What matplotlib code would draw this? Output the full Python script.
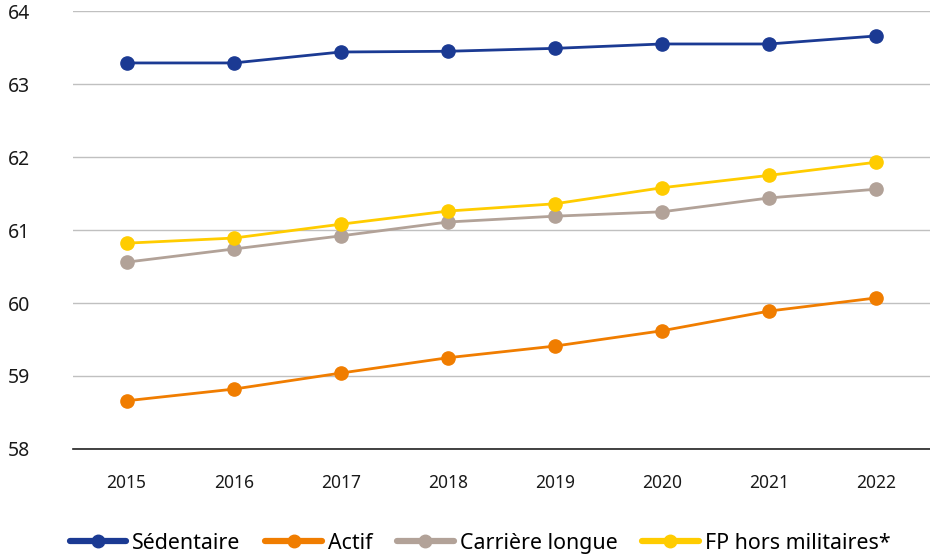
import matplotlib.pyplot as plt

years = ["2015", "2016", "2017", "2018", "2019", "2020", "2021", "2022"]
sedentaire = [63.29, 63.29, 63.44, 63.45, 63.49, 63.55, 63.55, 63.66]
actif = [58.66, 58.82, 59.04, 59.25, 59.41, 59.62, 59.89, 60.07]
carriere_longue = [60.56, 60.74, 60.92, 61.11, 61.19, 61.25, 61.44, 61.56]
fp_hors_militaires = [60.82, 60.89, 61.08, 61.26, 61.36, 61.58, 61.75, 61.93]

series = [
    ("Sédentaire", sedentaire, "#1b3a93"),
    ("Actif", actif, "#f07d00"),
    ("Carrière longue", carriere_longue, "#b2a298"),
    ("FP hors militaires*", fp_hors_militaires, "#ffcc00"),
]

plt.rcParams['font.family'] = ['Noto Sans', 'DejaVu Sans']

fig = plt.figure(figsize=(9.3, 5.57), dpi=100)
ax = fig.add_axes([0.0785, 0.194, 0.9215, 0.786])

x = list(range(len(years)))
for name, vals, color in series:
    ax.plot(x, vals, color=color, lw=2, marker='o', ms=9.5, label=name,
            solid_capstyle='round')

ax.set_xlim(-0.5, 7.5)
ax.set_ylim(58, 64)
ax.set_xticks(x)
ax.set_xticklabels(years)
ax.set_yticks(range(58, 65))
ax.tick_params(axis='both', length=0, colors='#1a1a1a')
ax.tick_params(axis='x', pad=18, labelsize=12.5)
ax.tick_params(axis='y', pad=47, labelsize=14)
for lab in ax.get_yticklabels():
    lab.set_horizontalalignment('left')
ax.grid(axis='y', color='#c0c0c0', lw=1)
ax.set_axisbelow(True)
for s in ['top', 'right', 'left']:
    ax.spines[s].set_visible(False)
ax.spines['bottom'].set_color('#222222')
ax.spines['bottom'].set_linewidth(1.2)

leg = ax.legend(loc='center left', bbox_to_anchor=(-0.004, -0.215), ncol=4,
                frameon=False, handlelength=2.65, handletextpad=0.28,
                columnspacing=1.15, borderaxespad=0, borderpad=0,
                prop={'size': 15.4})
for h in leg.get_lines():
    h.set_linewidth(4.5)
    h.set_markersize(9)

fig.savefig("out.png", dpi=100)
